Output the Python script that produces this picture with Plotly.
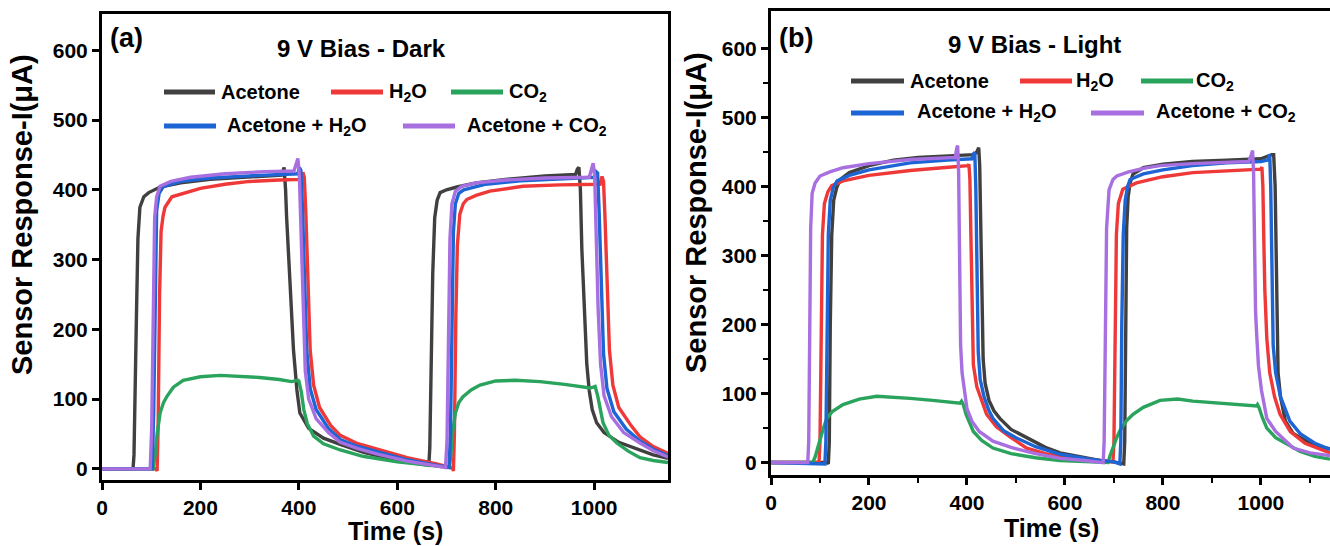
import plotly.graph_objects as go

# ---------------- DATA: panel (a) 9 V Bias - Dark ----------------
DARK_ACETONE_T = [0, 63, 65, 67, 70, 73, 77, 85, 95, 118, 160, 220, 300, 365, 368, 370, 373, 375, 382, 389, 396, 402, 420, 450, 484, 530, 600, 650, 664,
                  666, 669, 672, 676, 681, 687, 700, 721, 760, 820, 900, 962, 966, 969, 972, 975, 980, 985, 990, 996, 1005, 1020, 1050, 1093, 1120, 1150]
DARK_ACETONE_I = [0, 0, 20, 80, 220, 330, 375, 390, 396, 404, 410, 415, 418, 421, 428, 432, 400, 362, 267, 171, 113, 80, 58, 44, 35, 24, 12, 7, 5,
                  30, 150, 280, 360, 385, 396, 400, 404, 410, 415, 420, 422, 430, 432, 400, 314, 220, 150, 112, 85, 66, 52, 38, 27, 20, 15]

DARK_H2O_T = [0, 110, 112, 114, 117, 120, 124, 128, 142, 170, 200, 250, 300, 360, 405, 408, 411, 414, 418, 423, 430, 442, 465, 484, 520, 560, 620, 680, 712,
              714, 716, 719, 722, 727, 734, 741, 760, 788, 855, 930, 1012, 1016, 1019, 1022, 1026, 1031, 1038, 1050, 1075, 1093, 1120, 1150]
DARK_H2O_I = [0, 0, -3, 60, 250, 340, 362, 375, 390, 396, 402, 408, 412, 414, 415, 425, 418, 370, 260, 170, 120, 88, 62, 48, 36, 28, 16, 7, 1,
              -3, 50, 220, 320, 365, 380, 386, 392, 398, 405, 407, 408, 419, 412, 360, 260, 170, 120, 88, 62, 46, 32, 22]

DARK_CO2_T = [0, 104, 108, 112, 118, 125, 132, 145, 165, 200, 240, 280, 320, 360, 385, 392, 398, 400, 405, 410, 417, 430, 450, 484, 530, 600, 660, 706,
              708, 712, 718, 725, 733, 750, 768, 800, 840, 890, 940, 992, 998, 1002, 1007, 1012, 1018, 1030, 1046, 1070, 1093, 1120, 1150]
DARK_CO2_I = [0, 0, 20, 50, 80, 95, 104, 117, 127, 132, 134, 133, 131, 128, 125, 126, 127, 126, 110, 85, 65, 47, 36, 27, 18, 10, 5, 2,
              15, 50, 80, 95, 103, 113, 120, 126, 127, 125, 121, 116, 117, 118, 105, 85, 66, 48, 37, 25, 16, 12, 9]

DARK_ACH2O_T = [0, 102, 105, 108, 111, 116, 125, 160, 220, 300, 380, 398, 401, 404, 407, 411, 416, 423, 435, 460, 484, 520, 560, 620, 680, 705,
                708, 711, 714, 718, 725, 735, 780, 850, 930, 1000, 1004, 1007, 1010, 1014, 1019, 1026, 1040, 1065, 1093, 1120, 1150]
DARK_ACH2O_I = [0, 0, 80, 280, 370, 395, 405, 412, 417, 420, 422, 423, 432, 428, 380, 270, 170, 115, 85, 58, 42, 32, 24, 13, 5, 2,
                50, 230, 340, 380, 395, 400, 408, 413, 416, 418, 426, 424, 370, 260, 165, 115, 82, 57, 40, 28, 19]

DARK_ACCO2_T = [0, 98, 101, 104, 107, 111, 118, 140, 180, 250, 330, 390, 395, 398, 401, 404, 408, 413, 420, 435, 460, 484, 520, 560, 620, 680, 698,
                701, 704, 707, 711, 718, 731, 760, 820, 900, 990, 995, 998, 1001, 1004, 1008, 1013, 1020, 1035, 1060, 1093, 1120, 1150]
DARK_ACCO2_I = [0, 0, 60, 250, 360, 390, 405, 412, 418, 423, 426, 427, 440, 445, 420, 340, 230, 140, 100, 72, 52, 38, 29, 21, 11, 4, 2,
                40, 200, 330, 380, 398, 405, 410, 414, 417, 418, 432, 438, 420, 340, 230, 150, 105, 75, 52, 37, 26, 17]

# ---------------- DATA: panel (b) 9 V Bias - Light ----------------
LIGHT_ACETONE_T = [0, 115, 117, 119, 121, 124, 128, 134, 141, 160, 200, 250, 300, 350, 415, 420, 424, 426, 428, 430, 433, 437, 445, 455, 467, 490, 522, 560,
                   590, 630, 671, 700, 720, 722, 724, 726, 729, 733, 739, 760, 800, 860, 930, 1000, 1022, 1026, 1029, 1031, 1033, 1035, 1040, 1050, 1066,
                   1090, 1110, 1141]
LIGHT_ACETONE_I = [0, 0, -2, 30, 200, 330, 380, 398, 410, 420, 430, 438, 442, 444, 446, 450, 456, 430, 350, 250, 150, 115, 90, 75, 64, 48, 36, 22,
                   14, 8, 3, 1, -2, 30, 200, 340, 385, 405, 418, 427, 432, 436, 438, 440, 446, 446, 400, 280, 190, 130, 95, 60,
                   42, 32, 24, 20]

LIGHT_H2O_T = [0, 98, 100, 102, 105, 109, 116, 124, 147, 200, 284, 350, 402, 404, 406, 408, 411, 413, 420, 430, 440, 460, 490, 522, 560, 600, 650, 698,
               700, 702, 705, 709, 718, 746, 800, 861, 930, 1000, 1002, 1004, 1006, 1008, 1012, 1018, 1028, 1039, 1060, 1090, 1141]
LIGHT_H2O_I = [0, 0, 30, 200, 330, 375, 392, 401, 408, 416, 423, 427, 430, 432, 410, 330, 200, 142, 110, 88, 70, 52, 36, 21, 13, 8, 4, 1,
               30, 200, 330, 375, 396, 405, 414, 420, 423, 425, 428, 400, 320, 250, 180, 130, 95, 70, 45, 28, 14]

LIGHT_CO2_T = [0, 85, 90, 95, 100, 107, 114, 125, 147, 180, 216, 250, 284, 330, 370, 386, 389, 392, 398, 405, 413, 430, 453, 490, 540, 590, 640, 688,
               692, 698, 705, 712, 725, 739, 760, 794, 830, 861, 920, 991, 993, 996, 1003, 1012, 1030, 1053, 1080, 1110, 1141]
LIGHT_CO2_I = [0, 0, 8, 20, 35, 50, 64, 74, 84, 92, 96, 95, 93, 90, 87, 86, 89, 85, 70, 57, 45, 32, 21, 13, 7, 3, 1, 0,
               10, 22, 35, 46, 60, 70, 80, 90, 92, 89, 86, 82, 84, 80, 65, 50, 36, 27, 16, 9, 5]

LIGHT_ACH2O_T = [0, 100, 108, 110, 112, 114, 117, 121, 127, 135, 160, 200, 284, 360, 410, 413, 416, 418, 420, 423, 427, 435, 445, 453, 475, 500, 540, 590,
                 650, 700, 712, 714, 716, 719, 723, 728, 733, 760, 800, 860, 930, 1000, 1014, 1016, 1018, 1020, 1022, 1025, 1030, 1040, 1059, 1080, 1110,
                 1141]
LIGHT_ACH2O_I = [0, -2, -3, -2, 30, 200, 330, 380, 398, 408, 416, 424, 434, 438, 440, 447, 449, 400, 280, 160, 120, 95, 75, 64, 46, 36, 23, 12,
                 5, 1, -2, 30, 200, 330, 380, 400, 410, 418, 424, 430, 434, 436, 438, 444, 446, 400, 280, 170, 130, 95, 60, 42, 28,
                 19]

LIGHT_ACCO2_T = [0, 75, 77, 79, 81, 84, 90, 100, 120, 147, 200, 284, 360, 376, 379, 381, 383, 385, 387, 390, 395, 400, 410, 425, 453, 490, 540, 590,
                 640, 678, 680, 682, 685, 690, 698, 706, 730, 760, 794, 860, 930, 975, 980, 983, 985, 987, 989, 991, 995, 1001, 1012, 1030, 1066, 1100,
                 1141]
LIGHT_ACCO2_I = [0, 0, 30, 200, 340, 390, 405, 415, 421, 427, 433, 439, 441, 442, 455, 459, 420, 260, 170, 130, 100, 78, 60, 45, 31, 22, 13, 6,
                 3, 0, 30, 200, 340, 395, 410, 415, 421, 426, 430, 433, 435, 436, 445, 452, 420, 300, 220, 190, 140, 105, 64, 45, 21, 14,
                 10]

SERIES_NAMES = ["Acetone", "H<sub>2</sub>O", "CO<sub>2</sub>", "Acetone + H<sub>2</sub>O", "Acetone + CO<sub>2</sub>"]
COLORS = ["#404040", "#ef3838", "#2aa35c", "#1d64d4", "#a76fe0"]

DARK = [(DARK_ACETONE_T, DARK_ACETONE_I), (DARK_H2O_T, DARK_H2O_I), (DARK_CO2_T, DARK_CO2_I),
        (DARK_ACH2O_T, DARK_ACH2O_I), (DARK_ACCO2_T, DARK_ACCO2_I)]
LIGHT = [(LIGHT_ACETONE_T, LIGHT_ACETONE_I), (LIGHT_H2O_T, LIGHT_H2O_I), (LIGHT_CO2_T, LIGHT_CO2_I),
         (LIGHT_ACH2O_T, LIGHT_ACH2O_I), (LIGHT_ACCO2_T, LIGHT_ACCO2_I)]

X_TICKS = [0, 200, 400, 600, 800, 1000]
Y_TICKS = [0, 100, 200, 300, 400, 500, 600]

W, H = 1330, 546
FONT = "Liberation Sans, Arial, sans-serif"


def px(x):
    return x / W


def py(y):
    return 1 - y / H


fig = go.Figure()
for (t, i), name, c in zip(DARK, SERIES_NAMES, COLORS):
    fig.add_trace(go.Scatter(x=t, y=i, mode="lines", name=name, showlegend=False,
                             line=dict(color=c, width=3.4), xaxis="x", yaxis="y"))
for (t, i), name, c in zip(LIGHT, SERIES_NAMES, COLORS):
    fig.add_trace(go.Scatter(x=t, y=i, mode="lines", name=name, showlegend=False,
                             line=dict(color=c, width=3.4), xaxis="x2", yaxis="y2"))

tickfont = dict(family=FONT, size=21, color="black", weight="bold")
axis_common = dict(showline=True, linewidth=3, linecolor="black", ticks="outside", ticklen=7,
                   tickwidth=3, tickcolor="black", showgrid=False, zeroline=False, tickfont=tickfont,
                   automargin=False)

fig.update_layout(
    width=W, height=H, margin=dict(l=0, r=0, t=0, b=0, autoexpand=False),
    paper_bgcolor="white", plot_bgcolor="white", showlegend=False,
    xaxis=dict(domain=[px(102), px(668)], range=[0, 1150], tickvals=X_TICKS, mirror=True, anchor="y",
               **axis_common),
    yaxis=dict(domain=[py(480), py(14)], range=[-16, 652], tickvals=Y_TICKS, mirror=True, anchor="x",
               **axis_common),
    xaxis2=dict(domain=[px(771), 1.0], range=[0, 1141], tickvals=X_TICKS, mirror=True, anchor="y2",
                minor=dict(ticks="outside", tickvals=[100, 300, 500, 700, 900, 1100], ticklen=5, tickwidth=2,
                           tickcolor="black"),
                **axis_common),
    yaxis2=dict(domain=[py(475), py(11)], range=[-18, 654], tickvals=Y_TICKS, mirror=False, anchor="x2",
                minor=dict(ticks="outside", tickvals=[50, 150, 250, 350, 450, 550], ticklen=5, tickwidth=2,
                           tickcolor="black"),
                **axis_common),
)

ann = []
shapes = []


def text(x, y, s, size, anchor="center", angle=0):
    ann.append(dict(x=px(x), y=py(y), xref="paper", yref="paper", text=s, showarrow=False,
                    xanchor=anchor, yanchor="middle", textangle=angle,
                    font=dict(family=FONT, size=size, color="black", weight="bold")))


# panel labels, titles
text(126, 38, "(a)", 27)
text(796, 38, "(b)", 27)
text(362, 48, "9 V Bias - Dark", 24)
text(1034, 44, "9 V Bias - Light", 24)

# axis titles
text(22, 215, "Sensor Response-I(μA)", 29, angle=-90)
text(696, 213, "Sensor Response-I(μA)", 29, angle=-90)
text(395, 531, "Time (s)", 25)
text(1051, 528, "Time (s)", 25)

# legends
LEG_A = [(92, 164, 215, 219), (92, 331, 383, 387), (92, 451, 503, 507), (126, 164, 216, 225), (126, 403, 455, 465)]
LEG_B = [(81, 851, 904, 908), (81, 1020, 1072, 1074), (81, 1141, 1193, 1194), (113, 851, 904, 915), (113, 1091, 1144, 1154)]
for leg in (LEG_A, LEG_B):
    for (yy, x0, x1, xt), name, c in zip(leg, SERIES_NAMES, COLORS):
        shapes.append(dict(type="line", xref="paper", yref="paper", x0=px(x0), x1=px(x1), y0=py(yy), y1=py(yy),
                           line=dict(color=c, width=5)))
        text(xt, yy, name, 20, anchor="left")

fig.update_layout(annotations=ann, shapes=shapes)
fig.write_html("out.html", config={"displayModeBar": False},
               post_script="document.body.style.margin='0';document.body.style.overflow='hidden';")
